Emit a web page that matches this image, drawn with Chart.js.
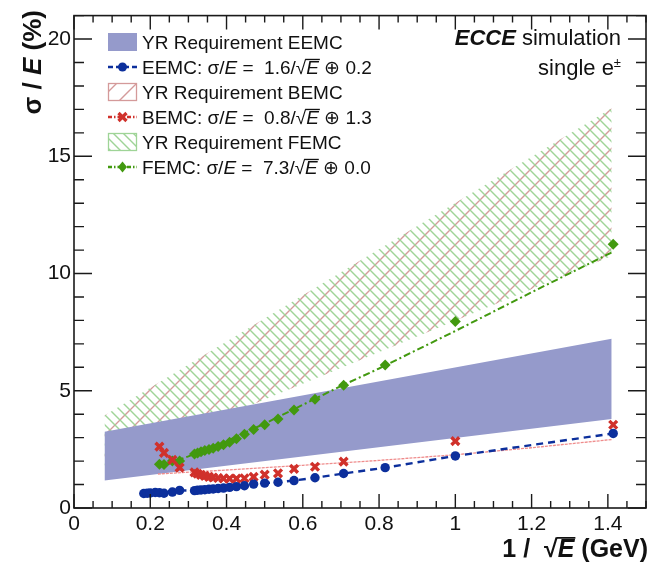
<!DOCTYPE html>
<html>
<head>
<meta charset="utf-8">
<script src="https://cdn.jsdelivr.net/npm/chart.js@4.4.0/dist/chart.umd.min.js"></script>
<style>
  html, body { margin: 0; padding: 0; background: #fff; }
  #wrap { width: 662px; height: 565px; }
</style>
</head>
<body>
<div id="wrap"><canvas id="resChart" width="662" height="565"></canvas></div>
<script>
const FONT = '"Liberation Sans", Arial, Helvetica, sans-serif';

// YR requirement bands (end points of the covered range)
const bandX = [0.08, 1.41];
const eemcReqLow = [1.17, 3.8];
const eemcReqHigh = [3.25, 7.22];
const bemcReqLow = [1.8, 10.75];
const bemcReqHigh = [3.95, 17.05];
const femcReqLow = [1.8, 10.75];
const femcReqHigh = [3.95, 17.05];

// EEMC resolution points
const eemcX = [0.183, 0.192, 0.2, 0.213, 0.224, 0.236, 0.258, 0.277, 0.316, 0.324, 0.333, 0.343, 0.354, 0.365,
               0.378, 0.392, 0.408, 0.426, 0.447, 0.471, 0.5, 0.535, 0.577, 0.632, 0.707, 0.816, 1.0, 1.414];
const eemcY = [0.62, 0.63, 0.64, 0.66, 0.65, 0.63, 0.68, 0.75, 0.74, 0.76, 0.77, 0.78, 0.8, 0.81,
               0.83, 0.85, 0.88, 0.91, 0.95, 1.02, 1.06, 1.1, 1.17, 1.29, 1.47, 1.72, 2.22, 3.18];

// BEMC resolution points
const bemcX = [0.224, 0.236, 0.258, 0.277, 0.316, 0.324, 0.333, 0.343, 0.354, 0.365, 0.378, 0.392,
               0.408, 0.426, 0.447, 0.471, 0.5, 0.535, 0.577, 0.632, 0.707, 1.0, 1.414];
const bemcY = [2.62, 2.35, 2.05, 1.72, 1.52, 1.46, 1.41, 1.37, 1.33, 1.3, 1.28, 1.26,
               1.25, 1.25, 1.27, 1.33, 1.42, 1.48, 1.67, 1.76, 1.98, 2.85, 3.55];

// FEMC resolution points
const femcX = [0.224, 0.236, 0.258, 0.277, 0.316, 0.324, 0.333, 0.343, 0.354, 0.365, 0.378, 0.392,
               0.408, 0.426, 0.447, 0.471, 0.5, 0.535, 0.577, 0.632, 0.707, 0.816, 1.0, 1.414];
const femcY = [1.87, 1.85, 2.0, 2.0, 2.3, 2.35, 2.4, 2.45, 2.5, 2.55, 2.62, 2.7,
               2.8, 2.95, 3.15, 3.35, 3.55, 3.8, 4.18, 4.64, 5.23, 6.1, 7.95, 11.25];

// fitted curves
const bemcFitX = [0.22, 0.4, 0.6, 0.8, 1.0, 1.2, 1.41];
const bemcFitY = [1.45, 1.62, 1.82, 2.03, 2.27, 2.57, 2.92];
const femcFitX = [0.22, 0.3, 0.4, 0.5, 0.6, 0.7, 0.8, 0.9, 1.0, 1.2, 1.41];
const femcFitY = [1.75, 2.2, 2.85, 3.6, 4.4, 5.2, 5.95, 6.75, 7.55, 9.2, 10.9];

// axis ranges and tick spacing
const xRange = [0, 1.5];
const yRange = [0, 21];
const xStep = 0.2, xMinorPerMajor = 4;
const yStep = 5, yMinorPerMajor = 5;

const BLUE = '#0c2f9c';
const RED = '#d0312b';
const GREEN = '#42990f';
const BAND = '#959acb';
const HATCH_RED = '#d49a9a';
const HATCH_GREEN = '#9fd497';

function pts(xs, ys) {
    return xs.map((x, i) => ({ x: x, y: ys[i] }));
}

// diagonal hatch tile; dir > 0 -> '/', dir < 0 -> '\'
function hatchPattern(color, size, dir) {
    const c = document.createElement('canvas');
    c.width = size; c.height = size;
    const g = c.getContext('2d');
    g.strokeStyle = color;
    g.lineWidth = 1.4;
    g.beginPath();
    if (dir > 0) {
        g.moveTo(-2, size + 2); g.lineTo(size + 2, -2);
        g.moveTo(-2, 2); g.lineTo(2, -2);
        g.moveTo(size - 2, size + 2); g.lineTo(size + 2, size - 2);
    } else {
        g.moveTo(-2, -2); g.lineTo(size + 2, size + 2);
        g.moveTo(size - 2, -2); g.lineTo(size + 2, 2);
        g.moveTo(-2, size - 2); g.lineTo(2, size + 2);
    }
    g.stroke();
    return g.createPattern(c, 'repeat');
}

const redHatch = hatchPattern(HATCH_RED, 20, 1);
const greenHatch = hatchPattern(HATCH_GREEN, 10, -1);

function bandEdge(ys, order, fill, color) {
    return {
        data: pts(bandX, ys),
        showLine: true,
        borderWidth: 0,
        borderColor: 'rgba(0,0,0,0)',
        backgroundColor: color || 'rgba(0,0,0,0)',
        pointRadius: 0,
        fill: fill,
        order: order
    };
}

// text made of pieces with different styles (italic, overline for the radical)
function richWidth(ctx, parts, size, weight) {
    let w = 0;
    parts.forEach(p => {
        ctx.font = (p.i ? 'italic ' : '') + (p.w || weight) + ' ' + (p.s || size) + 'px ' + FONT;
        w += ctx.measureText(p.t).width;
    });
    return w;
}

function drawRich(ctx, parts, x, y, size, weight) {
    let cx = x;
    parts.forEach(p => {
        const fs = p.s || size;
        ctx.font = (p.i ? 'italic ' : '') + (p.w || weight) + ' ' + fs + 'px ' + FONT;
        ctx.fillText(p.t, cx, y + (p.up || 0));
        const w = ctx.measureText(p.t).width;
        if (p.bar) {
            ctx.fillRect(cx - 1, y - fs * 0.8, w + 2, Math.max(1.2, fs * 0.07));
        }
        cx += w;
    });
}

const frameTicks = {
    id: 'frameTicks',
    afterDraw(chart) {
        const { ctx, chartArea: a, scales } = chart;
        const xs = scales.x, ys = scales.y;
        ctx.save();
        ctx.strokeStyle = '#1a1a1a';
        ctx.lineWidth = 1.6;
        ctx.strokeRect(a.left, a.top, a.right - a.left, a.bottom - a.top);
        ctx.lineWidth = 1.4;
        ctx.beginPath();
        const xMinor = xStep / xMinorPerMajor;
        const nx = Math.round((xRange[1] - xRange[0]) / xMinor);
        for (let i = 0; i <= nx; i++) {
            const px = xs.getPixelForValue(xRange[0] + i * xMinor);
            const len = i % xMinorPerMajor === 0 ? 14 : 7;
            ctx.moveTo(px, a.bottom); ctx.lineTo(px, a.bottom - len);
            ctx.moveTo(px, a.top); ctx.lineTo(px, a.top + len);
        }
        const yMinor = yStep / yMinorPerMajor;
        const ny = Math.round((yRange[1] - yRange[0]) / yMinor);
        for (let i = 0; i <= ny; i++) {
            const py = ys.getPixelForValue(yRange[0] + i * yMinor);
            const len = i % yMinorPerMajor === 0 ? 18 : 10;
            ctx.moveTo(a.left, py); ctx.lineTo(a.left + len, py);
            ctx.moveTo(a.right, py); ctx.lineTo(a.right - len, py);
        }
        ctx.stroke();

        // axis titles
        ctx.fillStyle = '#111';
        ctx.textBaseline = 'alphabetic';
        const xt = [{ t: '1 /  ' }, { t: '√' }, { t: 'E', i: 1, bar: 1 }, { t: ' (GeV)' }];
        const xw = richWidth(ctx, xt, 25, 'bold');
        drawRich(ctx, xt, 648 - xw, 557, 25, 'bold');

        const yt = [{ t: 'σ / ' }, { t: 'E', i: 1 }, { t: ' (%)' }];
        const yw = richWidth(ctx, yt, 26, 'bold');
        ctx.save();
        ctx.translate(41, 10);
        ctx.rotate(-Math.PI / 2);
        drawRich(ctx, yt, -yw, 0, 26, 'bold');
        ctx.restore();

        // ECCE label
        const t1 = [{ t: 'ECCE', i: 1, w: 'bold' }, { t: ' simulation' }];
        const w1 = richWidth(ctx, t1, 22, 'normal');
        drawRich(ctx, t1, 621 - w1, 45, 22, 'normal');
        const t2 = [{ t: 'single e' }, { t: '±', s: 13, up: -8 }];
        const w2 = richWidth(ctx, t2, 22, 'normal');
        drawRich(ctx, t2, 621 - w2, 75, 22, 'normal');
        ctx.restore();
    }
};

const legendBox = {
    id: 'legendBox',
    afterDraw(chart) {
        const ctx = chart.ctx;
        const x0 = 108, x1 = 137, tx = 142, size = 19;
        const rowY = i => 42 + 25 * i;
        ctx.save();

        // band swatches
        ctx.fillStyle = BAND;
        ctx.fillRect(x0, rowY(0) - 9, x1 - x0, 18);
        [[2, redHatch, HATCH_RED], [4, greenHatch, HATCH_GREEN]].forEach(([r, pat, col]) => {
            ctx.fillStyle = pat;
            ctx.fillRect(x0, rowY(r) - 9, x1 - x0, 18);
            ctx.strokeStyle = col;
            ctx.lineWidth = 1.3;
            ctx.strokeRect(x0 + 0.5, rowY(r) - 8.5, x1 - x0 - 1, 17);
        });

        // line + marker samples
        const cx = (x0 + x1) / 2;
        ctx.lineWidth = 2.4;
        ctx.strokeStyle = BLUE; ctx.setLineDash([5, 3]);
        ctx.beginPath(); ctx.moveTo(x0, rowY(1)); ctx.lineTo(x1, rowY(1)); ctx.stroke();
        ctx.strokeStyle = RED; ctx.setLineDash([4, 2, 1.5, 2]);
        ctx.beginPath(); ctx.moveTo(x0, rowY(3)); ctx.lineTo(x1, rowY(3)); ctx.stroke();
        ctx.strokeStyle = GREEN; ctx.setLineDash([4, 2, 1.5, 2]);
        ctx.beginPath(); ctx.moveTo(x0, rowY(5)); ctx.lineTo(x1, rowY(5)); ctx.stroke();
        ctx.setLineDash([]);
        ctx.fillStyle = BLUE;
        ctx.beginPath(); ctx.arc(cx, rowY(1), 4.5, 0, Math.PI * 2); ctx.fill();
        ctx.strokeStyle = RED; ctx.lineWidth = 3.2;
        ctx.beginPath();
        ctx.moveTo(cx - 4, rowY(3) - 4); ctx.lineTo(cx + 4, rowY(3) + 4);
        ctx.moveTo(cx - 4, rowY(3) + 4); ctx.lineTo(cx + 4, rowY(3) - 4);
        ctx.stroke();
        ctx.fillStyle = GREEN;
        ctx.beginPath();
        ctx.moveTo(cx, rowY(5) - 5.5); ctx.lineTo(cx + 4.5, rowY(5));
        ctx.lineTo(cx, rowY(5) + 5.5); ctx.lineTo(cx - 4.5, rowY(5));
        ctx.closePath(); ctx.fill();

        // entry texts
        ctx.fillStyle = '#111';
        ctx.textBaseline = 'alphabetic';
        const fit = (name, a, b) => [
            { t: name + ': σ/' }, { t: 'E', i: 1 }, { t: ' =  ' + a + '/' },
            { t: '√' }, { t: 'E', i: 1, bar: 1 }, { t: ' ⊕ ' + b }
        ];
        const rows = [
            [{ t: 'YR Requirement EEMC' }],
            fit('EEMC', '1.6', '0.2'),
            [{ t: 'YR Requirement BEMC' }],
            fit('BEMC', '0.8', '1.3'),
            [{ t: 'YR Requirement FEMC' }],
            fit('FEMC', '7.3', '0.0')
        ];
        rows.forEach((parts, i) => drawRich(ctx, parts, tx, rowY(i) + 7, size, 'normal'));
        ctx.restore();
    }
};

const datasets = [
    {   // EEMC measured
        data: pts(eemcX, eemcY), showLine: true, borderColor: BLUE, borderWidth: 2.4,
        borderDash: [7, 5], backgroundColor: BLUE, pointRadius: 4.7, pointStyle: 'circle',
        pointBorderWidth: 0, fill: false, order: 0
    },
    {   // BEMC measured
        data: pts(bemcX, bemcY), showLine: false, borderColor: RED, backgroundColor: RED,
        pointStyle: 'crossRot', pointRadius: 5.5, pointBorderWidth: 3.4, fill: false, order: 1
    },
    {   // FEMC measured
        data: pts(femcX, femcY), showLine: false, borderColor: GREEN, backgroundColor: GREEN,
        pointStyle: 'rectRot', pointRadius: 5.5, pointBorderWidth: 0, fill: false, order: 2
    },
    {   // BEMC fit
        data: pts(bemcFitX, bemcFitY), showLine: true, borderColor: '#ef8c8c', borderWidth: 1.3,
        borderDash: [3, 1], pointRadius: 0, fill: false, order: 3
    },
    {   // FEMC fit
        data: pts(femcFitX, femcFitY), showLine: true, borderColor: GREEN, borderWidth: 2,
        borderDash: [7, 3, 2, 3], pointRadius: 0, fill: false, order: 3
    },
    bandEdge(eemcReqLow, 10, false),
    bandEdge(eemcReqHigh, 10, '-1', BAND),
    bandEdge(femcReqLow, 20, false),
    bandEdge(femcReqHigh, 20, '-1', greenHatch),
    bandEdge(bemcReqLow, 21, false),
    bandEdge(bemcReqHigh, 21, '-1', redHatch)
];

new Chart(document.getElementById('resChart'), {
    type: 'line',
    data: { datasets: datasets },
    options: {
        responsive: false,
        animation: false,
        devicePixelRatio: 1,
        layout: { padding: { top: 7, right: 16, left: 0, bottom: 0 } },
        plugins: {
            legend: { display: false },
            tooltip: { enabled: false },
            filler: { drawTime: 'beforeDatasetDraw' }
        },
        scales: {
            x: {
                type: 'linear', min: xRange[0], max: xRange[1],
                grid: { display: false, drawTicks: false }, border: { display: false },
                ticks: {
                    stepSize: xStep, includeBounds: false, autoSkip: false, maxRotation: 0,
                    padding: 4, color: '#111', font: { family: FONT, size: 21 },
                    callback: v => String(+v.toFixed(1))
                },
                afterFit: s => { s.height = 57; }
            },
            y: {
                type: 'linear', min: yRange[0], max: yRange[1],
                grid: { display: false, drawTicks: false }, border: { display: false },
                ticks: {
                    stepSize: yStep, includeBounds: false, padding: 3, color: '#111',
                    font: { family: FONT, size: 21 }, callback: v => String(v)
                },
                afterFit: s => { s.width = 74; }
            }
        }
    },
    plugins: [frameTicks, legendBox]
});
</script>
</body>
</html>
